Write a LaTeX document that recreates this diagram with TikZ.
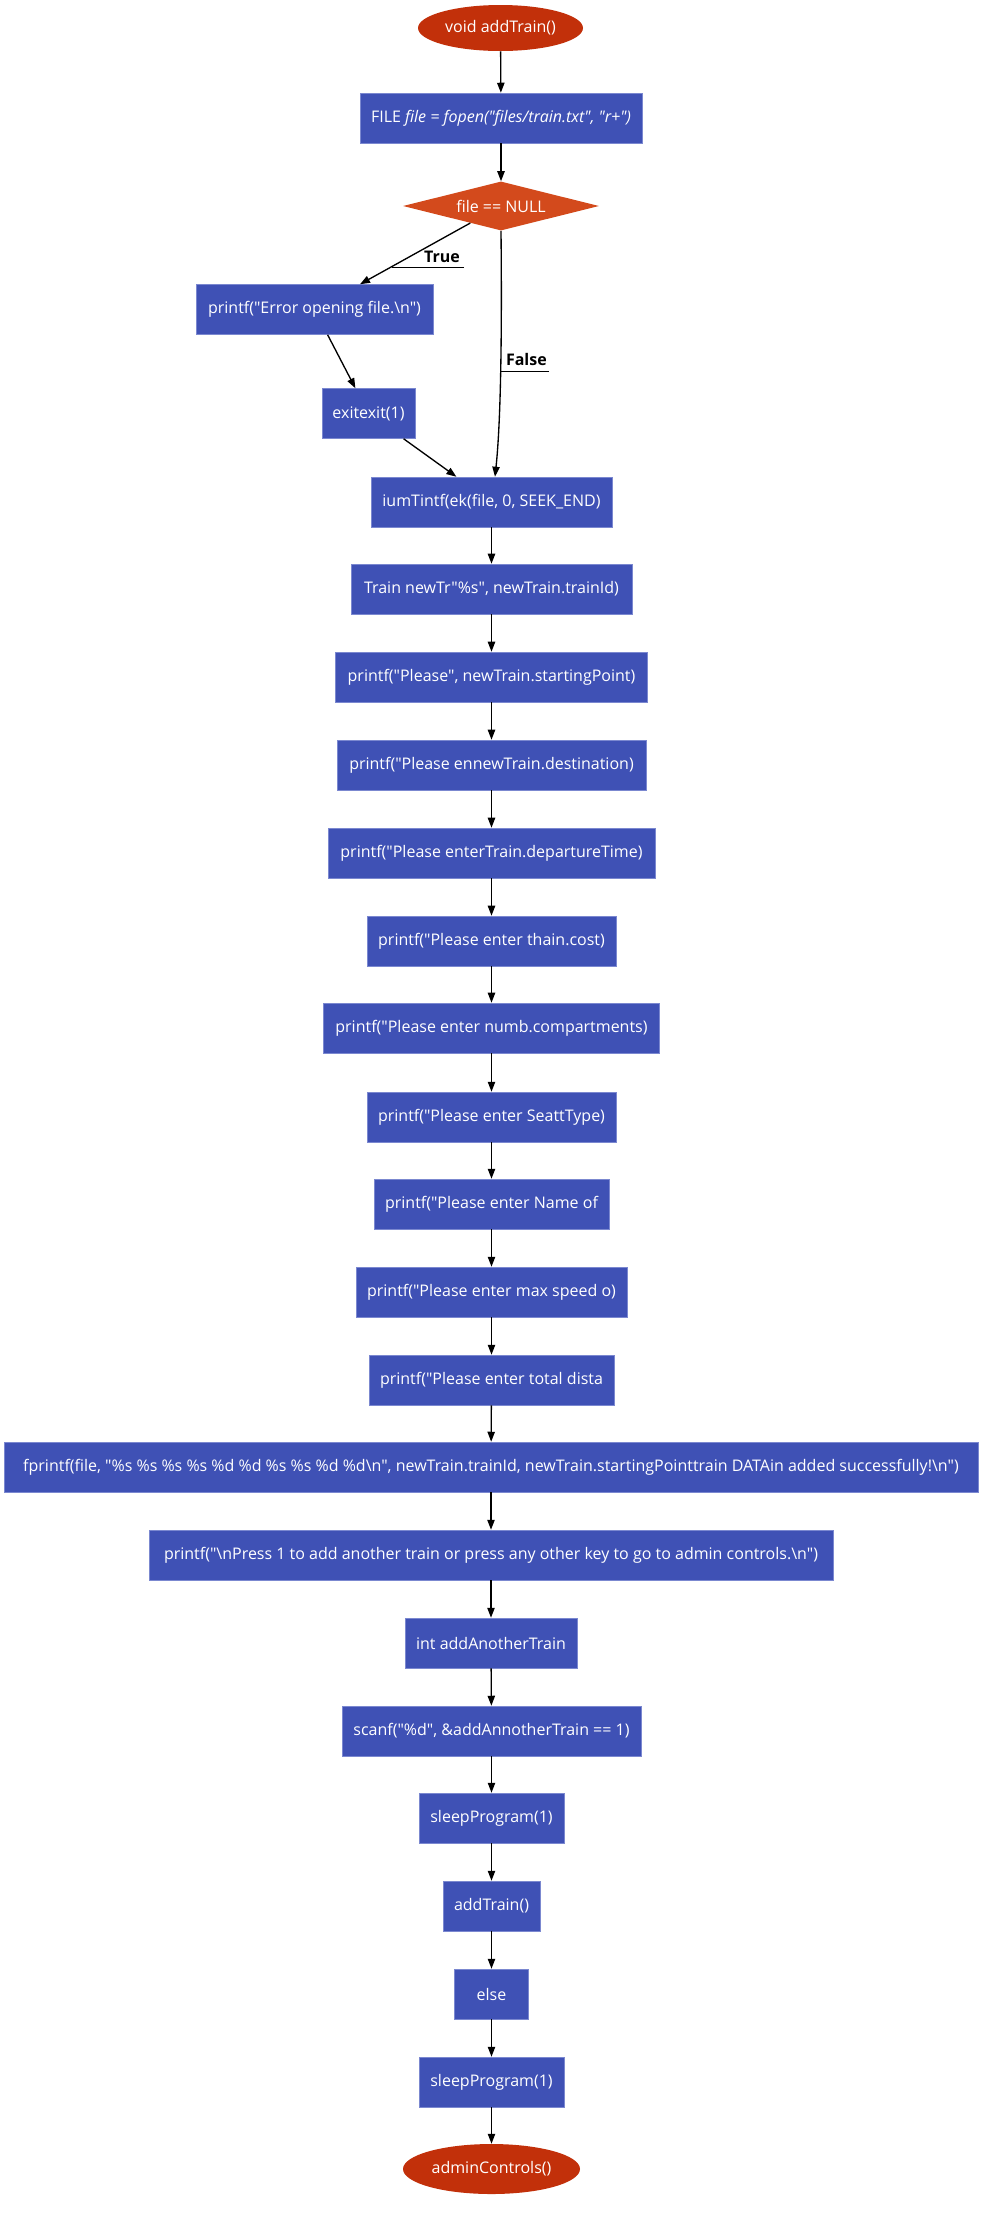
\documentclass[tikz,border=0pt]{standalone}
\usepackage{fontspec}
\setmainfont{Open Sans}[Ligatures=TeXOff]
\usetikzlibrary{shapes.geometric,arrows.meta,calc}
\definecolor{boxfill}{HTML}{3F51B5}
\definecolor{boxline}{HTML}{7B88D0}
\definecolor{termfill}{HTML}{C2300A}
\definecolor{decfill}{HTML}{D34A1C}
\begin{document}
\begin{tikzpicture}[x=0.75pt,y=-0.75pt,
  txt/.style={font=\fontsize{12}{14}\selectfont},
  proc/.style={rectangle,fill=boxfill,draw=boxline,line width=0.4pt,text=white,inner sep=0pt,minimum height=37.5pt,txt},
  w/.style={minimum width=#1*0.75pt},
  term/.style={ellipse,fill=termfill,text=white,inner sep=0pt,txt},
  dec/.style={diamond,aspect=4,fill=decfill,text=white,inner sep=0pt,txt},
  arr/.style={draw=black,line width=1pt,-{Triangle[length=7.5pt,width=5.5pt]}},
  lbl/.style={font=\bfseries\fontsize{12}{14}\selectfont,inner sep=0pt},
  uline/.style={draw=black,line width=0.75pt}]
\useasboundingbox (0,0) rectangle (997,2214);
\node[term,minimum width=165*0.75pt,minimum height=46*0.75pt] (start) at (500.5,28) {void addTrain()};
\node[proc,w=282] (fopen) at (501,118) {FILE \textit{file = fopen("files/train.txt", "r+")}};
\node[dec,minimum width=196*0.75pt,minimum height=49*0.75pt] (dia) at (501,206) {file == NULL};
\node[proc,w=237] (err) at (314.5,309.5) {printf("Error opening file.\textbackslash n")};
\node[proc,w=93] (exit) at (368.5,413.5) {exitexit(1)};
\node[proc,w=241] (ium) at (491.5,502) {iumTintf(ek(file, 0, SEEK\_END)};
\node[proc,w=281] (train) at (491.5,589) {Train newTr"\%s", newTrain.trainId)};
\node[proc,w=312] (p1) at (491.5,677) {printf("Please", newTrain.startingPoint)};
\node[proc,w=309] (p2) at (491.5,765) {printf("Please ennewTrain.destination)};
\node[proc,w=327] (p3) at (491.5,853) {printf("Please enterTrain.departureTime)};
\node[proc,w=249] (p4) at (491.5,941) {printf("Please enter thain.cost)};
\node[proc,w=336] (p5) at (491.5,1028) {printf("Please enter numb.compartments)};
\node[proc,w=249] (p6) at (491.5,1117) {printf("Please enter SeattType)};
\node[proc,w=235] (p7) at (491.5,1204) {printf("Please enter Name of};
\node[proc,w=271] (p8) at (491.5,1292) {printf("Please enter max speed o)};
\node[proc,w=245] (p9) at (491.5,1380) {printf("Please enter total dista};
\node[proc,w=974] (fpr) at (491,1467) {fprintf(file, "\%s \%s \%s \%s \%d \%d \%s \%s \%d \%d\textbackslash n", newTrain.trainId, newTrain.startingPointtrain DATAin added successfully!\textbackslash n")};
\node[proc,w=684] (press) at (491,1555) {printf("\textbackslash nPress 1 to add another train or press any other key to go to admin controls.\textbackslash n")};
\node[proc,w=172] (inta) at (491,1643) {int addAnotherTrain};
\node[proc,w=299] (scanf) at (491.5,1731) {scanf("\%d", \&addAnnotherTrain == 1)};
\node[proc,w=145] (sl1) at (491.5,1818) {sleepProgram(1)};
\node[proc,w=97] (addt) at (491.5,1906) {addTrain()};
\node[proc,w=74] (else) at (491.5,1994) {else};
\node[proc,w=145] (sl2) at (491.5,2082) {sleepProgram(1)};
\node[term,minimum width=177*0.75pt,minimum height=50*0.75pt] (admin) at (491.5,2169) {adminControls()};
% connectors
\draw[arr] (start) -- (fopen);
\draw[arr] (fopen) -- (dia);
\draw[arr] (dia) -- (err);
\draw[arr] (err) -- (exit);
\draw[arr] (exit) -- (ium);
\draw[arr] (dia.south) .. controls (502,330) and (501,420) .. ($(ium.north)+(3.5,0)$);
\foreach \a/\b in {ium/train,train/p1,p1/p2,p2/p3,p3/p4,p4/p5,p5/p6,p6/p7,p7/p8,p8/p9,p9/fpr,fpr/press,press/inta,inta/scanf,scanf/sl1,sl1/addt,addt/else,else/sl2,sl2/admin}
  \draw[arr] (\a) -- (\b);
% edge labels
\node[lbl,anchor=base east] (lT) at (460,262) {True};
\draw[uline] ($(lT.base east)+(4,5)$) -- ++(-72,0);
\node[lbl,anchor=base east] (lF) at (547,365) {False};
\draw[uline] ($(lF.base east)+(2,6)$) -- ++(-48,0);
\end{tikzpicture}
\end{document}
